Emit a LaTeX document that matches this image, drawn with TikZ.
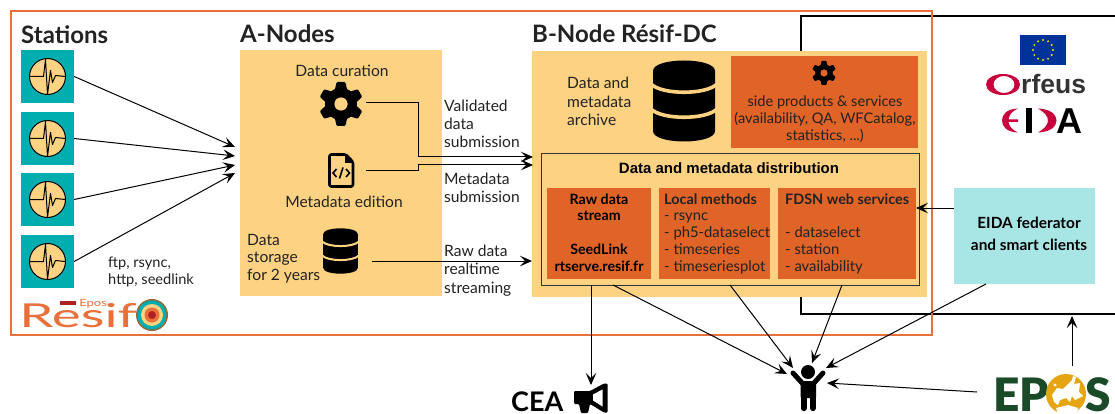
\documentclass[tikz,border=0pt]{standalone}
\usepackage{fontspec}
\setmainfont{Lato}
\newfontfamily\arialish{Liberation Sans}
\newfontfamily\latoblack{Lato Black}
\usetikzlibrary{arrows.meta,calc}
\definecolor{ochre}{HTML}{FDD282}
\definecolor{rust}{HTML}{E06327}
\definecolor{frameor}{HTML}{E8703A}
\definecolor{teal1}{HTML}{00AEB0}
\definecolor{aqua}{HTML}{A8E6E6}
\definecolor{ink}{HTML}{222222}
\definecolor{epgreen}{HTML}{1A4A28}
\definecolor{epgold}{HTML}{E5A513}
\definecolor{crim}{HTML}{C8003C}
\definecolor{brick}{HTML}{B02020}
\definecolor{eublue}{HTML}{003399}
\tikzset{
  x=1pt,y=-1pt,
  areabox/.style={fill=ochre,inner sep=0,anchor=north west},
  rustbox/.style={fill=rust,inner sep=0,anchor=north west},
  stationbox/.style={fill=teal1,inner sep=0,anchor=center,minimum width=53pt,minimum height=53pt},
  lbl/.style={inner sep=0,text=ink,font=\fontsize{15.6}{18}\selectfont,anchor=base west,align=left},
  lblc/.style={lbl,anchor=base,align=center},
  title/.style={inner sep=0,text=ink,font=\fontsize{24}{26}\bfseries\selectfont,anchor=base west},
  arr/.style={-{Stealth[length=12pt,width=10.5pt,inset=5pt]},line width=1pt,black},
}
\newcommand\stationicon[2]{%
  \begin{scope}[shift={(#1,#2)}]
    \draw[fill=ochre,line width=1pt] (0,0) circle[radius=18];
    \draw[line width=1pt,line join=round] (-18,0)--(-4,0)--(-2,-17)--(0,18)--(3,-6)--(5,6)--(8,-1)--(18,0);
  \end{scope}}
\newcommand\gearicon[4]{%
  \begin{scope}[shift={(#1,#2)}]
    \fill[black] (0,0) circle[radius=0.73*#3];
    \foreach \a in {0,60,...,300}
      \fill[black,rotate=\a,rounded corners=0.05*#3] (-0.3*#3,0.55*#3)--(-0.2*#3,#3)--(0.2*#3,#3)--(0.3*#3,0.55*#3)--cycle;
    \fill[#4] (0,0) circle[radius=0.3*#3];
  \end{scope}}
\newcommand\dbicon[4]{% cx cy scale bg
  \begin{scope}[shift={(#1,#2)},scale=#3]
    \fill[black] (-31,-30) .. controls (-31,-44) and (31,-44) .. (31,-30) -- (31,30)
       .. controls (31,44) and (-31,44) .. (-31,30) -- cycle;
    \draw[#4,line width=#3*3.6pt] (-33,-17) .. controls (-22,-6) and (22,-6) .. (33,-17);
    \draw[#4,line width=#3*3.6pt] (-33,8) .. controls (-22,19) and (22,19) .. (33,8);
  \end{scope}}
\begin{document}
\begin{tikzpicture}
\useasboundingbox (0,0) rectangle (1115,414);
\fill[white] (0,0) rectangle (1115,414);
% black frame
\draw[black,line width=2.5pt] (1120,16) -- (801,16) -- (801,314) -- (1120,314);
% orange frame
\draw[frameor,line width=2.5pt] (11,11) rectangle (932,335);

% areas
\node[areabox,minimum width=202pt,minimum height=246pt] (anodes) at (240,50) {};
\node[areabox,minimum width=395pt,minimum height=246pt] (bnode) at (532,51) {};
\node[rustbox,minimum width=187pt,minimum height=92pt] (side) at (731,56) {};
\node[areabox,draw=black!80,line width=1pt,minimum width=378pt,minimum height=132pt] (dist) at (541,153) {};
\node[rustbox,minimum width=104pt,minimum height=91pt] (raw) at (547,188) {};
\node[rustbox,minimum width=111pt,minimum height=91pt] (local) at (659,188) {};
\node[rustbox,minimum width=138pt,minimum height=91pt] (fdsn) at (778,188) {};
\node[fill=aqua,inner sep=0,anchor=north west,minimum width=141pt,minimum height=96pt] (fed) at (954,188) {};

% titles
\node[title] (tst) at (21,43.5) {Stations};
\node[title] (tan) at (240,43) {A-Nodes};
\node[title] (tbn) at (532,43) {B-Node Résif-DC};

% stations
\node[stationbox] (st1) at (47.5,76.5) {};
\node[stationbox] (st2) at (47.5,138.5) {};
\node[stationbox] (st3) at (47.5,199.5) {};
\node[stationbox] (st4) at (47.5,261.5) {};
\stationicon{47.5}{76.5}\stationicon{47.5}{138.5}\stationicon{47.5}{199.5}\stationicon{47.5}{261.5}

% icons
\gearicon{341}{104}{22}{ochre}
\node[inner sep=0,minimum size=44pt] (gearA) at (341,104) {};
\node[inner sep=0,minimum width=26pt,minimum height=35pt] (fileA) at (341,171) {};
\draw[black,line width=2.6pt,line join=round,rounded corners=1.5pt] (329.5,154.5) -- (346,154.5) -- (353,162) -- (353,186.5) -- (329.5,186.5) -- cycle;
\fill[black] (345,154) -- (345,163) -- (354,163) -- cycle;
\draw[black,line width=1.6pt] (336.5,169) -- (333,173) -- (336.5,177);
\draw[black,line width=1.6pt] (346,169) -- (349.5,173) -- (346,177);
\draw[black,line width=1.6pt] (343,167.5) -- (339.5,178.5);
\dbicon{340.5}{251}{0.56}{ochre}
\node[inner sep=0,minimum width=36pt,minimum height=44pt] (dbA) at (340.5,251) {};
\dbicon{684}{101}{1}{ochre}
\gearicon{824}{73}{12}{rust}

% texts A
\node[lblc] (t1) at (342,77) {Data curation};
\node[lblc] (t2) at (344,207) {Metadata edition};
\node[lbl,font=\fontsize{15.6}{17.5}\selectfont] (t3) at (247,280) {Data\\storage\\for 2 years};
\node[lbl,font=\fontsize{14.6}{16.5}\selectfont] (t4) at (108,284) {ftp, rsync,\\http, seedlink};
\node[lbl] (t5) at (444,148) {Validated\\data\\submission};
\node[lbl] (t6) at (444,202) {Metadata\\submission};
\node[lbl,font=\fontsize{15.6}{18.5}\selectfont] (t7) at (444,293) {Raw data\\realtime\\streaming};
% texts B
\node[lbl,font=\fontsize{15.6}{18.5}\selectfont] (t8) at (567,126) {Data and\\metadata\\archive};
\node[lblc,font=\fontsize{14.6}{17}\selectfont] (t9) at (825,141) {side products \& services\\(availability, QA, WFCatalog,\\statistics, ...)};
\node[inner sep=0,anchor=base,text=black,font=\arialish\fontsize{15}{17}\bfseries\selectfont] (t10) at (729,174) {Data and metadata distribution};
\node[lblc,text=black,font=\fontsize{14.2}{16.75}\bfseries\selectfont] (t11) at (599,271) {Raw data\\stream\\[16.75pt]SeedLink\\rtserve.resif.fr};
\node[lbl,font=\fontsize{14.8}{16.75}\selectfont] (t12) at (664,271) {{\fontsize{14.4}{16.75}\bfseries\selectfont Local methods}\\- rsync\\- ph5-dataselect\\- timeseries\\- timeseriesplot};
\node[lbl,font=\fontsize{14.8}{16.75}\selectfont] (t13) at (785,271) {{\fontsize{14.4}{16.75}\bfseries\selectfont FDSN web services}\\[16.75pt]- dataselect\\- station\\- availability};
\node[lblc,text=black,font=\fontsize{15.4}{21.5}\bfseries\selectfont] (t14) at (1029,250) {EIDA federator\\and smart clients};

% connectors
\coordinate (hubA1) at (235,147);
\coordinate (hubA2) at (235,156);
\coordinate (hubA3) at (235,165);
\coordinate (hubA4) at (235,173);
\draw[arr] (st1.east) -- (hubA1);
\draw[arr] (st2.east) -- (hubA2);
\draw[arr] (st3.east) -- (hubA3);
\draw[arr] (st4.east) -- (hubA4);
\coordinate (gearOut) at (366,103);
\coordinate (fileOut) at (366,171);
\coordinate (dbOut) at (372,261);
\coordinate (bIn1) at (533,157);
\coordinate (bIn2) at (533,165);
\coordinate (bIn3) at (532,261);
\draw[arr] (gearOut) -- (418,103) -- (418,157) -- (bIn1);
\draw[arr] (fileOut) -- (418,171) -- (418,165) -- (bIn2);
\draw[arr] (dbOut) -- (bIn3);

% person
\node[inner sep=0,minimum width=34pt,minimum height=46pt] (person) at (808,388) {};
\fill[black] (808,372) circle[radius=7];
\draw[black,line width=5pt,line cap=round,line join=round] (793,373) -- (803,384) -- (813,384) -- (823,373);
\fill[black,rounded corners=1pt] (800.5,381) rectangle (816,398);
\draw[black,line width=6.4pt,line cap=round] (803.7,396) -- (803.7,408);
\draw[black,line width=6.4pt,line cap=round] (812.8,396) -- (812.8,408);

% CEA
\node[inner sep=0,anchor=base west,text=black,font=\fontsize{27}{29}\bfseries\selectfont] (cea) at (511,411) {CEA};
\node[inner sep=0,minimum width=34pt,minimum height=30pt] (mega) at (590,398) {};
\fill[black,rounded corners=1pt] (574,391)--(590,391)--(604,383.5)--(607.5,383.5)--(607.5,412.5)--(604,412.5)--(590,404)--(588,413)--(581,413)--(579,404)--(574,404)--cycle;
\fill[white] (593,394.5)--(602.5,389.5)--(602.5,406.5)--(593,400.5)--cycle;

% downstream connectors
\coordinate (ceaIn) at (591,385);
\coordinate (pL) at (787,374);
\coordinate (pT) at (793,368);
\coordinate (pC) at (812,363);
\coordinate (pR) at (826,368);
\coordinate (pE) at (827,383);
\coordinate (rawOut1) at (591,285);
\coordinate (rawOut2) at (613,285);
\coordinate (locOut) at (730,285);
\coordinate (fdOut) at (842,285);
\coordinate (fedOut) at (986,284);
\coordinate (fdsnIn) at (916,208);
\draw[arr] (rawOut1) -- (ceaIn);
\draw[arr] (rawOut2) -- (pL);
\draw[arr] (locOut) -- (pT);
\draw[arr] (fdOut) -- (pC);
\draw[arr] (fedOut) -- (pR);
\draw[arr] (fed.west |- fdsnIn) -- (fdsnIn);

% EU flag
\node[fill=eublue,inner sep=0,minimum width=46pt,minimum height=30pt] (eu) at (1043,50) {};
\foreach \a in {0,30,...,330}
  \fill[yellow!85!orange] ($(eu.center)+(\a:10)$) circle[radius=1.1];

% Orfeus
\node[inner sep=0,minimum width=34pt,minimum height=21pt] (ofO) at (1003,84.5) {};
\fill[crim,even odd rule] (1003,84.5) ellipse[x radius=17,y radius=10.5] (1004,84.5) ellipse[x radius=10.5,y radius=8.5];
\node[inner sep=0,anchor=base west,text=black!80,font=\arialish\fontsize{26.5}{28}\bfseries\selectfont] (orf) at (1021,93.5) {rfeus};

% EIDA
\node[inner sep=0,minimum width=54pt,minimum height=25pt] (eidaL) at (1029,120.5) {};
\fill[crim] (1018,108.5) .. controls (1006,109) and (1002,115) .. (1002,120.5) .. controls (1002,126) and (1006,132) .. (1018,132.5)
   .. controls (1012,130) and (1009,126) .. (1008.5,122) -- (1018,122) -- (1018,119.5) -- (1008.5,119.5) .. controls (1009,115) and (1012,111) .. (1018,108.5) -- cycle;
\fill[black] (1025.5,108.5) rectangle (1032,133.5);
\fill[crim] (1038,108.5) .. controls (1051,109) and (1056.5,115) .. (1056.5,120.5) .. controls (1056.5,126) and (1051,132) .. (1038,132.5)
   .. controls (1044,129) and (1048,125) .. (1048,120.5) .. controls (1048,116) and (1044,112) .. (1038,108.5) -- cycle;
\node[inner sep=0,anchor=base west,text=black,font=\arialish\fontsize{36}{38}\bfseries\selectfont] (eidaA) at (1056,133.5) {A};

% EPOS
\node[inner sep=0,anchor=base west,text=epgreen,font=\latoblack\fontsize{46}{48}\selectfont] (epEP) at (993,411) {EP};
\node[inner sep=0,anchor=base west,text=epgreen,font=\latoblack\fontsize{46}{48}\selectfont] (epS) at (1085,411) {S};
\node[inner sep=0,minimum size=40pt,circle] (epO) at (1066,394) {};
\begin{scope}
  \clip (0,0) rectangle (1115,414);
  \fill[epgold] (1066,394) circle[radius=20];
  \fill[white] (1052,395)--(1057,388)--(1063,389)--(1067,385)--(1072,380)--(1073,376)--(1076,377)--(1074,384)--(1080,383)--(1079,392)--(1083,396)--(1075,400)--(1072,396)--(1070,402)--(1066,398)--(1060,400)--(1058,405)--(1054,402)--cycle;
  \fill[white] (1056,408)--(1068,405)--(1078,408)--(1076,414)--(1058,414)--cycle;
  \fill[white] (1055,385) circle[radius=1.6];
\end{scope}
\coordinate (eposL) at (977,392);
\coordinate (eposUp) at (1072,366);
\coordinate (frameB) at (1072,316);
\draw[arr] (eposL) -- (pE);
\draw[arr] (eposUp) -- (frameB);

% Resif logo
\node[inner sep=0,anchor=base west,text=frameor,font=\fontsize{33}{35}\selectfont,xscale=1.66,transform shape] (res) at (19,327) {Resif};
\fill[brick] (60,301) rectangle (76,305);
\node[inner sep=0,anchor=base west,text=frameor,font=\fontsize{10}{11}\selectfont,xscale=1.3,transform shape] (epsm) at (79,306) {Epos};
\node[inner sep=0,minimum size=32pt,circle] (rlogo) at (152,315) {};
\fill[brown!80!black] (152,315) circle[radius=16];
\fill[teal1] (152,315) circle[radius=14.5];
\fill[ochre] (152,315) circle[radius=11];
\fill[frameor] (152,315) circle[radius=7.5];
\fill[brick] (152,315) circle[radius=4];
\end{tikzpicture}
\end{document}
